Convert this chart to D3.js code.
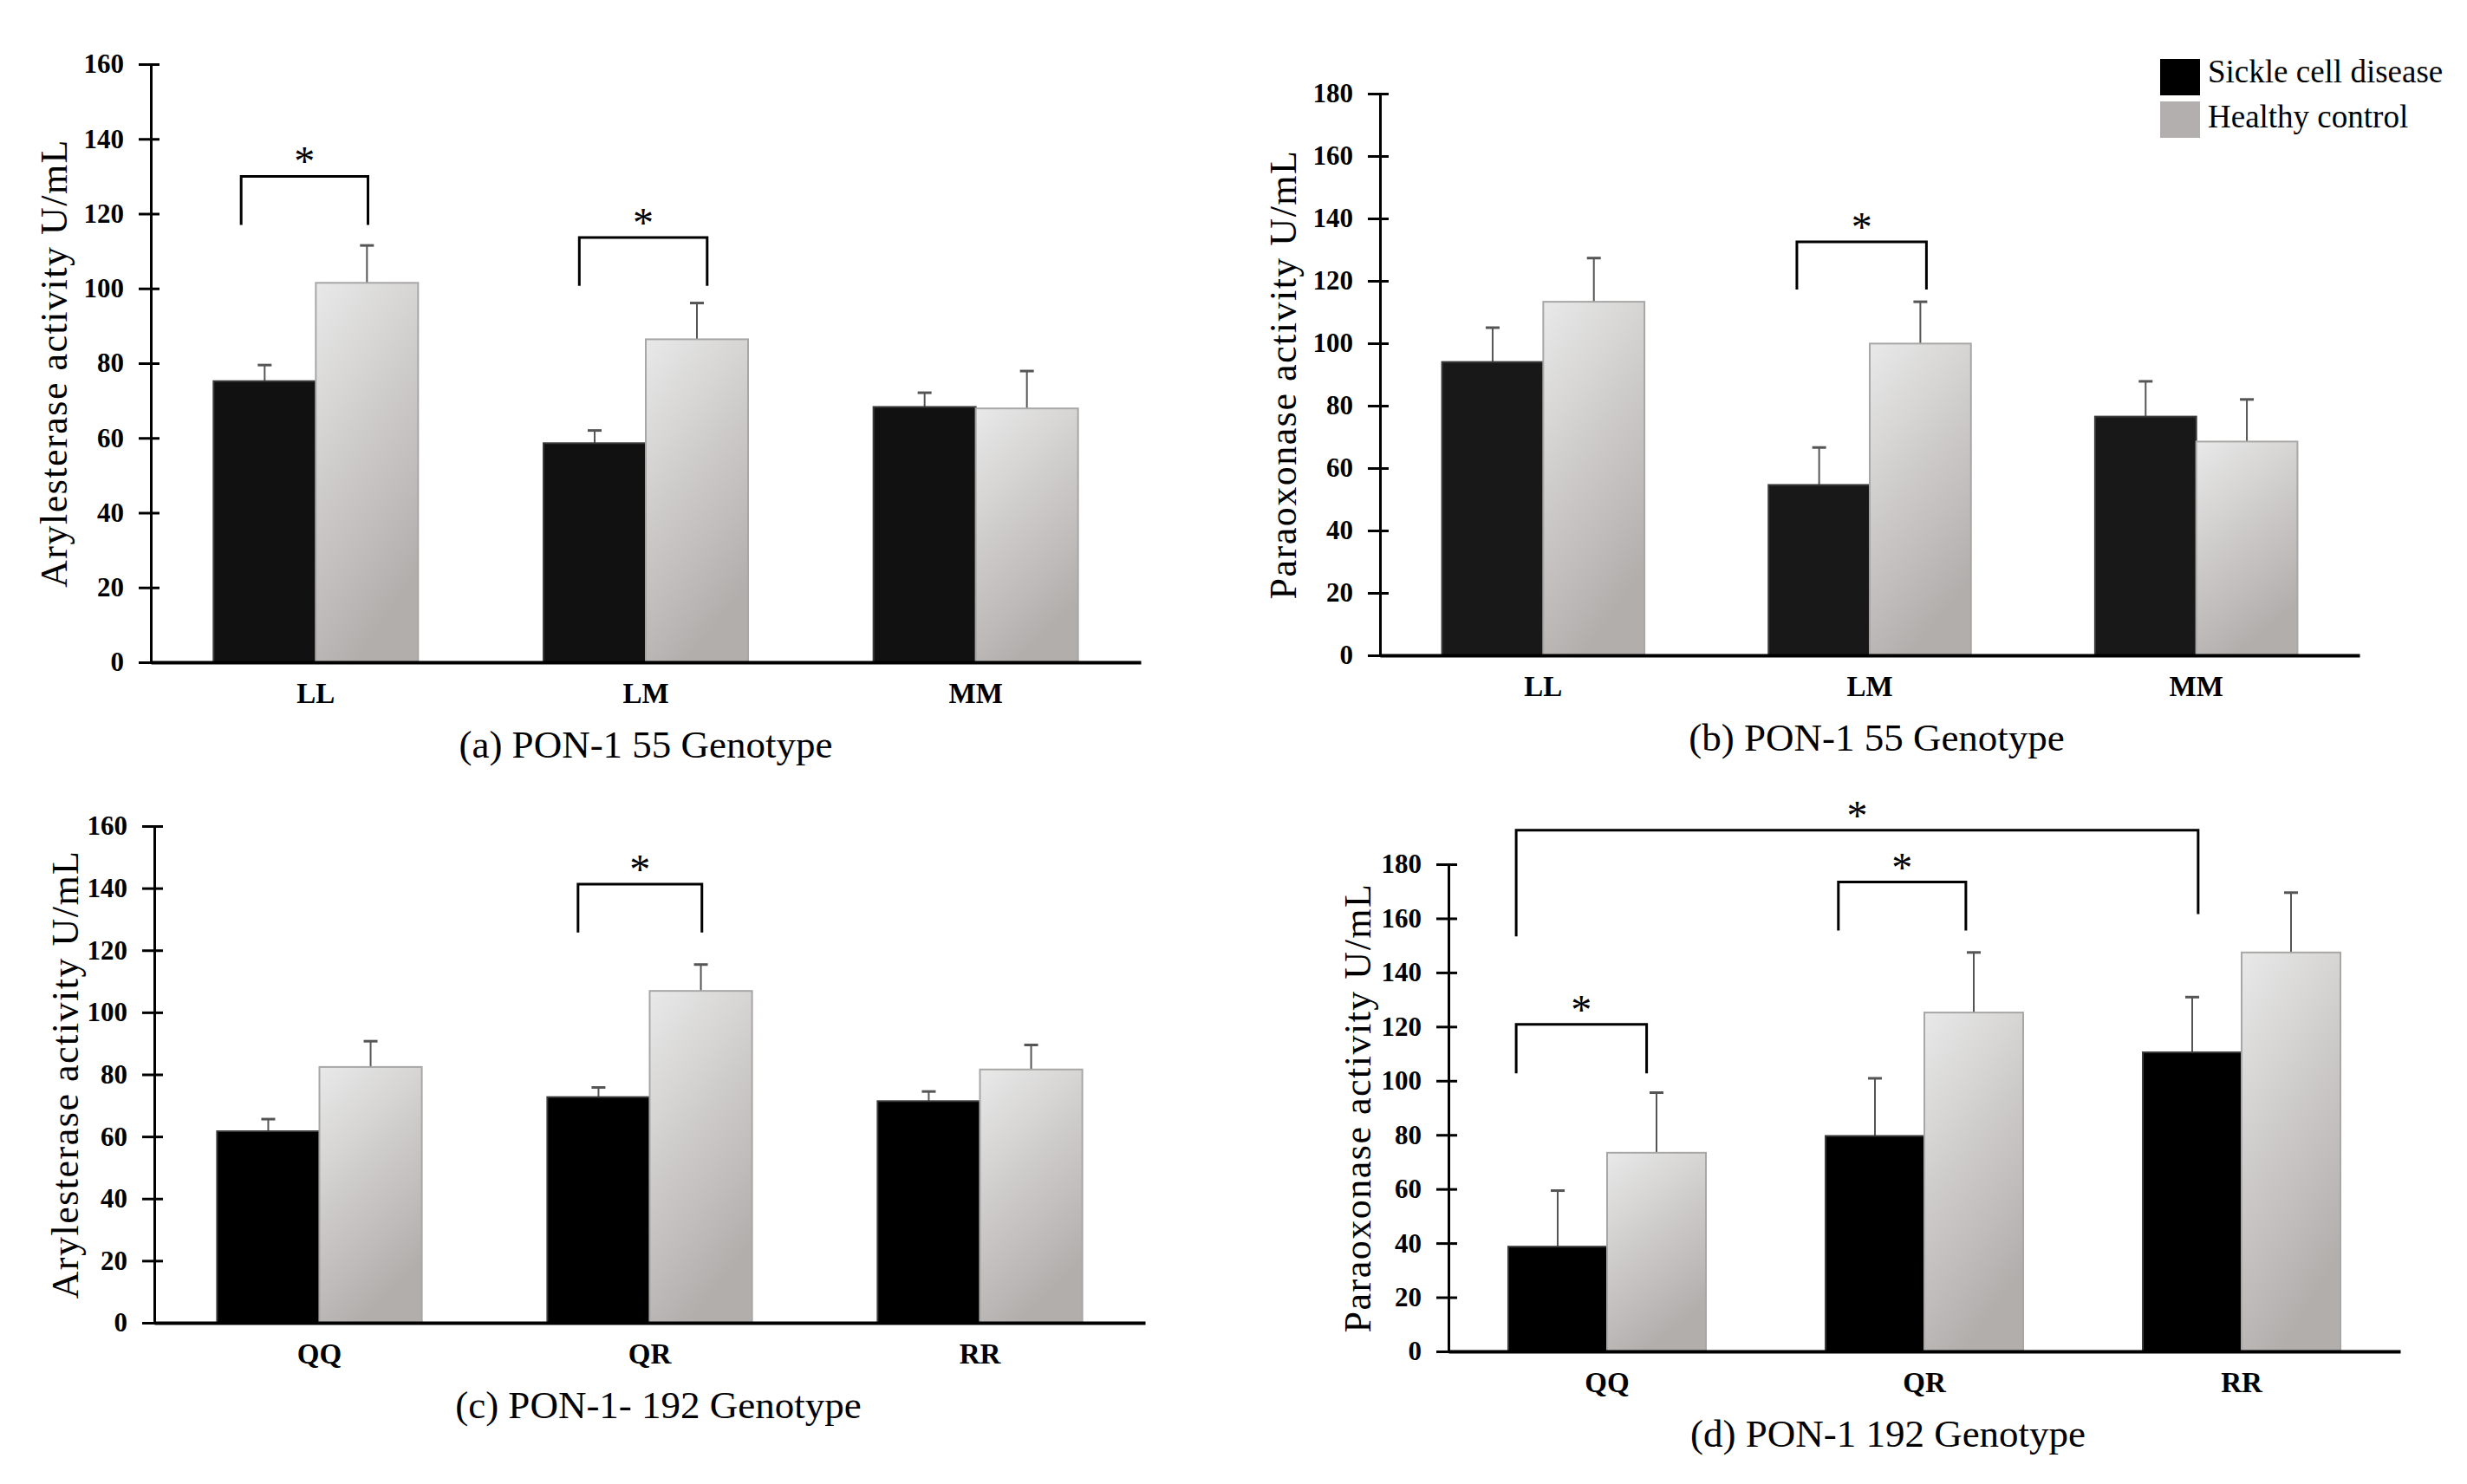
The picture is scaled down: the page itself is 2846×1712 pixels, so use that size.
<!DOCTYPE html>
<html>
<head>
<meta charset="utf-8">
<script src="https://cdn.jsdelivr.net/npm/d3@7"></script>
<style>
  body { margin: 0; background: #fff; }
  text { font-family: "Liberation Serif", "Times New Roman", serif; }
</style>
</head>
<body>
<div id="root"></div>
<script>
// Size of the whole figure
const width = 2846;
const height = 1712;

// Categories
const genotypes55 = ["LL", "LM", "MM"];
const genotypes192 = ["QQ", "QR", "RR"];
const groups = ["Sickle cell disease", "Healthy control"];

// Tick values
const ticks160 = [0, 20, 40, 60, 80, 100, 120, 140, 160];
const ticks180 = [0, 20, 40, 60, 80, 100, 120, 140, 160, 180];

// (a) Arylesterase, PON-1 55
const arylScd55 = [75.2, 58.6, 68.3];
const arylScd55Sd = [4.3, 3.4, 3.8];
const arylHc55 = [101.5, 86.4, 67.9];
const arylHc55Sd = [10.0, 9.7, 10.0];

// (b) Paraoxonase, PON-1 55
const paraScd55 = [94.0, 54.6, 76.5];
const paraScd55Sd = [11.0, 12.0, 11.3];
const paraHc55 = [113.3, 99.9, 68.5];
const paraHc55Sd = [14.0, 13.4, 13.5];

// (c) Arylesterase, PON-1 192
const arylScd192 = [61.7, 72.7, 71.4];
const arylScd192Sd = [3.9, 3.1, 3.1];
const arylHc192 = [82.4, 106.9, 81.6];
const arylHc192Sd = [8.3, 8.5, 7.9];

// (d) Paraoxonase, PON-1 192
const paraScd192 = [38.7, 79.6, 110.5];
const paraScd192Sd = [20.7, 21.3, 20.4];
const paraHc192 = [73.4, 125.2, 147.4];
const paraHc192Sd = [22.2, 22.2, 22.1];

// Significance brackets: [category, group index], values in U/mL
const sigA = [
  { from: ["LL", 0], to: ["LL", 1], top: 130, legs: [117, 117] },
  { from: ["LM", 0], to: ["LM", 1], top: 113.6, legs: [100.7, 100.7] }
];
const sigB = [
  { from: ["LM", 0], to: ["LM", 1], top: 132.5, legs: [117.2, 117.2] }
];
const sigC = [
  { from: ["QR", 0], to: ["QR", 1], top: 141.3, legs: [125.7, 125.7] }
];
const sigD = [
  { from: ["QQ", 0], to: ["QQ", 1], top: 120.8, legs: [102.7, 102.7] },
  { from: ["QR", 0], to: ["QR", 1], top: 173.4, legs: [155.5, 155.5] },
  { from: ["QQ", 0], to: ["RR", 0], top: 192.6, legs: [153.3, 161.6] }
];

// Panel layout (legFrac: where each bracket leg sits across its bar)
const panels = [
  {
    cats: genotypes55, scd: arylScd55, scdSd: arylScd55Sd, hc: arylHc55, hcSd: arylHc55Sd,
    ticks: ticks160, yMax: 160, yLabel: "Arylesterase activity U/mL",
    caption: "(a) PON-1 55 Genotype", sig: sigA,
    left: 174, right: 1316, bottom: 764, top: 74, pad: 0.38,
    labelGap: 97, captionShift: 0, legFrac: [[0.27, 0.51], [0.35, 0.6]], dark: "#111"
  },
  {
    cats: genotypes55, scd: paraScd55, scdSd: paraScd55Sd, hc: paraHc55, hcSd: paraHc55Sd,
    ticks: ticks180, yMax: 180, yLabel: "Paraoxonase activity U/mL",
    caption: "(b) PON-1 55 Genotype", sig: sigB,
    left: 1592, right: 2722, bottom: 756, top: 108, pad: 0.38,
    labelGap: 97, captionShift: 8, legFrac: [[0.28, 0.56]], dark: "#181818"
  },
  {
    cats: genotypes192, scd: arylScd192, scdSd: arylScd192Sd, hc: arylHc192, hcSd: arylHc192Sd,
    ticks: ticks160, yMax: 160, yLabel: "Arylesterase activity U/mL",
    caption: "(c) PON-1- 192 Genotype", sig: sigC,
    left: 178, right: 1321, bottom: 1526, top: 953, pad: 0.38,
    labelGap: 88, captionShift: 10, legFrac: [[0.3, 0.51]], dark: "#000"
  },
  {
    cats: genotypes192, scd: paraScd192, scdSd: paraScd192Sd, hc: paraHc192, hcSd: paraHc192Sd,
    ticks: ticks180, yMax: 180, yLabel: "Paraoxonase activity U/mL",
    caption: "(d) PON-1 192 Genotype", sig: sigD,
    left: 1671, right: 2769, bottom: 1559, top: 997, pad: 0.377,
    labelGap: 90, captionShift: -42, legFrac: [[0.08, 0.4], [0.13, 0.42], [0.08, 0.56]], dark: "#000"
  }
];

// Creating svg
const svg = d3
  .select("#root")
  .append("svg")
  .attr("width", width)
  .attr("height", height)
  .style("background", "#fff");

// Grey gradient for the healthy control bars
const grad = svg
  .append("defs")
  .append("linearGradient")
  .attr("id", "hcFill")
  .attr("x1", 0)
  .attr("y1", 0)
  .attr("x2", 0.4)
  .attr("y2", 1);
grad.append("stop").attr("offset", "0%").attr("stop-color", "#e9e9e9");
grad.append("stop").attr("offset", "100%").attr("stop-color", "#b2aeac");

function drawPanel(p) {
  const g = svg.append("g");

  const x = d3
    .scaleBand()
    .domain(p.cats)
    .range([p.left, p.right])
    .paddingInner(p.pad)
    .paddingOuter(p.pad / 2);

  const xs = d3.scaleBand().domain([0, 1]).range([0, x.bandwidth()]);

  const y = d3.scaleLinear().domain([0, p.yMax]).range([p.bottom, p.top]);

  const rows = [];
  p.cats.forEach((c, i) => {
    rows.push({ cat: c, s: 0, v: p.scd[i], sd: p.scdSd[i] });
    rows.push({ cat: c, s: 1, v: p.hc[i], sd: p.hcSd[i] });
  });

  const cx = d => x(d.cat) + xs(d.s) + xs.bandwidth() / 2;

  // Error bars (drawn first so the bar top covers the stem)
  g.append("g")
    .selectAll("line")
    .data(rows)
    .enter()
    .append("line")
    .attr("x1", cx)
    .attr("x2", cx)
    .attr("y1", d => y(d.v))
    .attr("y2", d => y(d.v + d.sd))
    .attr("stroke", "#555")
    .attr("stroke-width", 2);

  g.append("g")
    .selectAll("line")
    .data(rows)
    .enter()
    .append("line")
    .attr("x1", d => cx(d) - 8)
    .attr("x2", d => cx(d) + 8)
    .attr("y1", d => y(d.v + d.sd))
    .attr("y2", d => y(d.v + d.sd))
    .attr("stroke", "#555")
    .attr("stroke-width", 3);

  // Bars
  g.append("g")
    .selectAll("rect")
    .data(rows)
    .enter()
    .append("rect")
    .attr("x", d => x(d.cat) + xs(d.s))
    .attr("y", d => y(d.v))
    .attr("width", xs.bandwidth())
    .attr("height", d => y(0) - y(d.v))
    .attr("fill", d => (d.s === 0 ? p.dark : "url(#hcFill)"))
    .attr("stroke", d => (d.s === 0 ? "#3a3a3a" : "#a9a7a6"))
    .attr("stroke-width", 2);

  // Y axis
  const yAxis = d3
    .axisLeft(y)
    .tickValues(p.ticks)
    .tickSize(14)
    .tickSizeOuter(0)
    .tickPadding(17);

  const ya = g
    .append("g")
    .attr("transform", "translate(" + p.left + ",0)")
    .call(yAxis);
  ya.select(".domain").attr("stroke-width", 3);
  ya.selectAll(".tick line").attr("stroke-width", 3);
  ya.selectAll(".tick")
    .append("line")
    .attr("x2", 10)
    .attr("stroke", "#000")
    .attr("stroke-width", 3);
  ya.selectAll(".tick text")
    .attr("font-family", "'Liberation Serif', serif")
    .attr("font-weight", "bold")
    .attr("font-size", 31)
    .attr("fill", "#000");

  // X axis
  const xAxis = d3.axisBottom(x).tickSize(0).tickSizeOuter(0).tickPadding(24);
  const xa = g
    .append("g")
    .attr("transform", "translate(0," + p.bottom + ")")
    .call(xAxis);
  xa.select(".domain").attr("stroke-width", 4);
  xa.selectAll(".tick text")
    .attr("font-family", "'Liberation Serif', serif")
    .attr("font-weight", "bold")
    .attr("font-size", 33)
    .attr("fill", "#000");

  // Y label
  g.append("text")
    .attr(
      "transform",
      "translate(" + (p.left - p.labelGap) + "," + (p.top + p.bottom) / 2 + ") rotate(-90)"
    )
    .attr("text-anchor", "middle")
    .attr("font-size", 44)
    .attr("letter-spacing", 1.5)
    .text(p.yLabel);

  // Caption
  g.append("text")
    .attr("x", (p.left + p.right) / 2 + p.captionShift)
    .attr("y", p.bottom + 110)
    .attr("text-anchor", "middle")
    .attr("font-size", 45)
    .text(p.caption);

  // Significance brackets
  const legX = (ref, frac) => x(ref[0]) + xs(ref[1]) + xs.bandwidth() * frac;

  p.sig.forEach((b, i) => {
    const x1 = legX(b.from, p.legFrac[i][0]);
    const x2 = legX(b.to, p.legFrac[i][1]);
    g.append("path")
      .attr(
        "d",
        "M" + x1 + "," + y(b.legs[0]) +
        "V" + y(b.top) +
        "H" + x2 +
        "V" + y(b.legs[1])
      )
      .attr("fill", "none")
      .attr("stroke", "#000")
      .attr("stroke-width", 3);

    g.append("text")
      .attr("x", (x1 + x2) / 2)
      .attr("y", y(b.top) - 1)
      .attr("text-anchor", "middle")
      .attr("font-size", 48)
      .text("*");
  });
}

panels.forEach(drawPanel);

// Legend
const legendColors = ["#000", "#b3afae"];
const legend = svg.append("g").attr("transform", "translate(2492,68)");

legend
  .selectAll("rect")
  .data(groups)
  .enter()
  .append("rect")
  .attr("x", 0)
  .attr("y", (d, i) => i * 49)
  .attr("width", 46)
  .attr("height", 42)
  .attr("fill", (d, i) => legendColors[i]);

legend
  .selectAll("text")
  .data(groups)
  .enter()
  .append("text")
  .attr("x", 55)
  .attr("y", (d, i) => 27 + i * 52)
  .attr("font-size", 37)
  .text(d => d);
</script>
</body>
</html>
